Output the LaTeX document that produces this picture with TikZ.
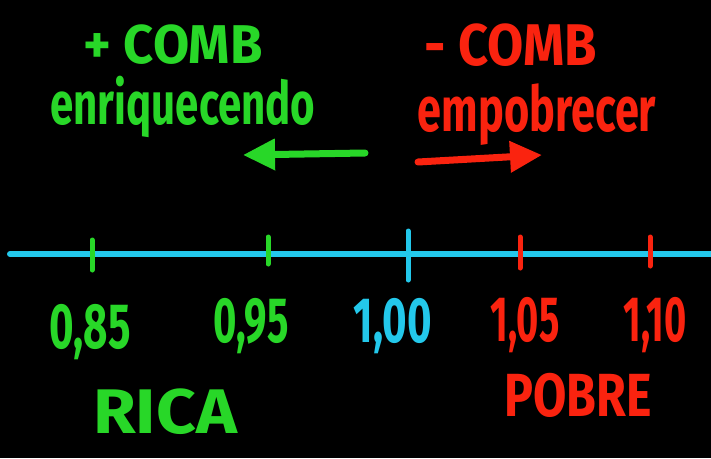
\documentclass[tikz,border=0pt]{standalone}
\usepackage{fontspec}
\setmainfont{Fira Sans}
\usetikzlibrary{arrows.meta}
\definecolor{hgreen}{RGB}{40,215,40}
\definecolor{hred}{RGB}{250,35,15}
\definecolor{hcyan}{RGB}{35,200,235}
\tikzset{
  lbl/.style={inner sep=0pt, font=\fontsize{40}{44}\bfseries\selectfont},
  word/.style={inner sep=0pt, anchor=base, font=\fontsize{42}{46}\bfseries\selectfont},
  tick/.style={line width=5pt, line cap=round},
  arr/.style={line width=7pt, line cap=round, -{Triangle[length=32pt,width=30pt]}}
}
\begin{document}
\begin{tikzpicture}[x=1pt,y=-1pt]
\fill[black] (0,0) rectangle (711,458);
\useasboundingbox (0,0) rectangle (711,458);
% top texts
\node[word, text=hgreen] (pc) at (173,63) {\scalebox{1.25}[1.3]{+ COMB}};
\node[word, text=hgreen] (enr) at (183,124) {\scalebox{1.0}[1.42]{enriquecendo}};
\node[word, text=hred] (mc) at (511,65) {\scalebox{1.25}[1.4]{- COMB}};
\node[word, text=hred] (emp) at (537,131) {\scalebox{1.03}[1.5]{empobrecer}};
% arrows
\coordinate (ga) at (365,153);
\coordinate (gb) at (243,155);
\draw[arr, hgreen] (ga) -- (gb);
\coordinate (ra) at (418,162);
\coordinate (rb) at (542,155);
\draw[arr, hred] (ra) -- (rb);
% axis
\coordinate (l0) at (10,254);
\coordinate (l1) at (711,254);
\draw[hcyan, line width=6pt, line cap=round] (l0) -- (l1);
% ticks
\coordinate (t1a) at (92,240); \coordinate (t1b) at (92,270);
\coordinate (t2a) at (268,237); \coordinate (t2b) at (268,264);
\coordinate (t3a) at (408,231); \coordinate (t3b) at (408,280);
\coordinate (t4a) at (520,237); \coordinate (t4b) at (520,268);
\coordinate (t5a) at (650,237); \coordinate (t5b) at (650,266);
\draw[tick, hgreen] (t1a) -- (t1b);
\draw[tick, hgreen] (t2a) -- (t2b);
\draw[tick, hcyan] (t3a) -- (t3b);
\draw[tick, hred] (t4a) -- (t4b);
\draw[tick, hred] (t5a) -- (t5b);
% numbers
\node[lbl, text=hgreen] (n1) at (90,332) {\scalebox{1.05}[1.6]{0,85}};
\node[lbl, text=hgreen] (n2) at (251,326) {\scalebox{1.0}[1.6]{0,95}};
\node[lbl, text=hcyan] (n3) at (393,326) {\scalebox{1.05}[1.6]{1,00}};
\node[lbl, text=hred] (n4) at (525,325) {\scalebox{0.95}[1.6]{1,05}};
\node[lbl, text=hred] (n5) at (655,325) {\scalebox{0.95}[1.6]{1,10}};
% bottom words
\node[word, text=hgreen] (rica) at (165,433) {\scalebox{1.65}[1.5]{RICA}};
\node[word, text=hred] (pobre) at (578,416) {\scalebox{1.15}[1.45]{POBRE}};
\end{tikzpicture}
\end{document}
